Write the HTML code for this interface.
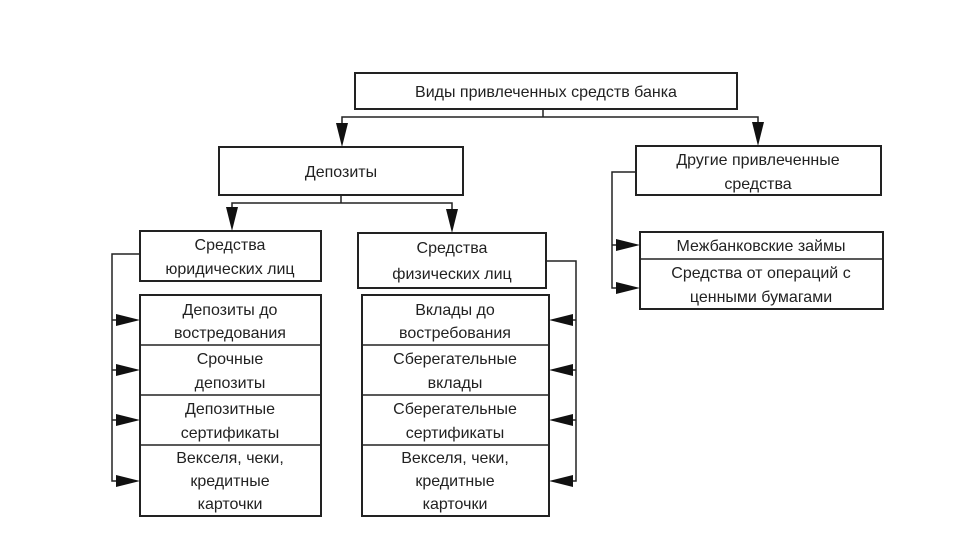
<!DOCTYPE html>
<html><head><meta charset="utf-8"><style>
html,body{margin:0;padding:0;background:#fff;}
svg{display:block;}
text{font-family:"Liberation Sans",sans-serif;font-size:16px;fill:#222;text-anchor:middle;}
</style></head><body>
<svg width="960" height="540" viewBox="0 0 960 540" xmlns="http://www.w3.org/2000/svg">
<g fill="#fff" stroke="#222" stroke-width="2">
<rect x="355" y="73" width="382" height="36"/>
<rect x="219" y="147" width="244" height="48"/>
<rect x="636" y="146" width="245" height="49"/>
<rect x="140" y="231" width="181" height="50"/>
<rect x="358" y="233" width="188" height="55"/>
<rect x="140" y="295" width="181" height="221"/>
<rect x="362" y="295" width="187" height="221"/>
<rect x="640" y="232" width="243" height="77"/>
</g>
<g stroke="#222" stroke-width="1.5" fill="none">
<line x1="140" y1="345" x2="321" y2="345"/><line x1="140" y1="395" x2="321" y2="395"/><line x1="140" y1="445" x2="321" y2="445"/>
<line x1="362" y1="345" x2="549" y2="345"/><line x1="362" y1="395" x2="549" y2="395"/><line x1="362" y1="445" x2="549" y2="445"/>
<line x1="640" y1="259" x2="883" y2="259"/>
<polyline points="543,109 543,117"/>
<polyline points="342,135 342,117 758,117 758,135"/>
<polyline points="341,195 341,203"/>
<polyline points="232,219 232,203 452,203 452,219"/>
<polyline points="140,254 112,254 112,481 126,481"/>
<line x1="112" y1="320" x2="126" y2="320"/><line x1="112" y1="370" x2="126" y2="370"/><line x1="112" y1="420" x2="126" y2="420"/>
<polyline points="546,261 576,261 576,481 563,481"/>
<line x1="576" y1="320" x2="563" y2="320"/><line x1="576" y1="370" x2="563" y2="370"/><line x1="576" y1="420" x2="563" y2="420"/>
<polyline points="636,172 612,172 612,288 626,288"/>
<line x1="612" y1="245" x2="626" y2="245"/>
</g>
<g fill="#111">
<polygon points="336,123 348,123 342,147"/>
<polygon points="752,122 764,122 758,146"/>
<polygon points="226,207 238,207 232,231"/>
<polygon points="446,209 458,209 452,233"/>
<polygon points="116,314 116,326 140,320"/><polygon points="116,364 116,376 140,370"/><polygon points="116,414 116,426 140,420"/><polygon points="116,475 116,487 140,481"/>
<polygon points="573,314 573,326 549,320"/><polygon points="573,364 573,376 549,370"/><polygon points="573,414 573,426 549,420"/><polygon points="573,475 573,487 549,481"/>
<polygon points="616,239 616,251 640,245"/><polygon points="616,282 616,294 640,288"/>
</g>
<text x="546" y="97">Виды привлеченных средств банка</text>
<text x="341" y="177">Депозиты</text>
<text x="758" y="165">Другие привлеченные</text><text x="758" y="189">средства</text>
<text x="230" y="250">Средства</text><text x="230" y="274">юридических лиц</text>
<text x="452" y="253">Средства</text><text x="452" y="279">физических лиц</text>
<text x="761" y="251">Межбанковские займы</text>
<text x="761" y="278">Средства от операций с</text><text x="761" y="302">ценными бумагами</text>
<text x="230" y="315">Депозиты до</text><text x="230" y="338">востредования</text>
<text x="230" y="364">Срочные</text><text x="230" y="388">депозиты</text>
<text x="230" y="414">Депозитные</text><text x="230" y="438">сертификаты</text>
<text x="230" y="463">Векселя, чеки,</text><text x="230" y="486">кредитные</text><text x="230" y="509">карточки</text>
<text x="455" y="315">Вклады до</text><text x="455" y="338">востребования</text>
<text x="455" y="364">Сберегательные</text><text x="455" y="388">вклады</text>
<text x="455" y="414">Сберегательные</text><text x="455" y="438">сертификаты</text>
<text x="455" y="463">Векселя, чеки,</text><text x="455" y="486">кредитные</text><text x="455" y="509">карточки</text>
</svg>
</body></html>
